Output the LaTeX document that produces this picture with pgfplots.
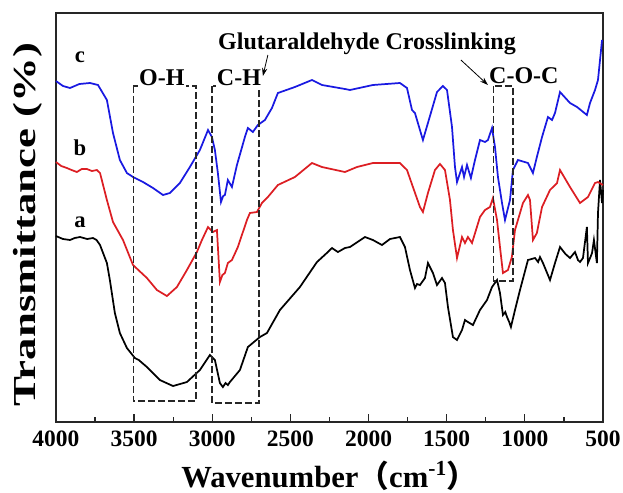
\documentclass[border=0pt]{standalone}
\usepackage{fontspec}
\setmainfont{Liberation Serif}
\newfontfamily\cjk{Noto Sans CJK SC}
\usepackage{graphicx}
\usepackage{pgfplots}
\pgfplotsset{compat=1.18}
\usetikzlibrary{arrows.meta}
\definecolor{cblue}{RGB}{25,25,225}
\definecolor{cred}{RGB}{220,30,35}
\begin{document}
\begin{tikzpicture}
\begin{axis}[
  scale only axis, width=410.25pt, height=306.75pt,
  x dir=reverse, xmin=500, xmax=4000, ymin=0, ymax=409,
  axis line style={line width=1.1pt, draw=black!85},
  xtick={500,1000,...,4000}, minor x tick num=1, xtick pos=bottom, ytick=\empty,
  major tick length=6pt, minor tick length=3.75pt,
  tick style={line width=0.9pt, draw=black!85},
  /pgf/number format/assume math mode=true,
  /pgf/number format/1000 sep={},
  xticklabel style={font=\fontsize{17.6}{20}\selectfont\bfseries, yshift=-3pt},
  xlabel={Wavenumber{\cjk （}cm\textsuperscript{-1}{\cjk ）}},
  xlabel style={font=\fontsize{23}{28}\selectfont\bfseries, at={(axis description cs:0.5,-0.159)}, anchor=base},
  ylabel={\scalebox{1.4}[1]{Transmittance (\%)}},
  ylabel style={font=\fontsize{24}{28}\selectfont\bfseries, at={(axis description cs:-0.037,0.482)}, anchor=base, rotate=0},
  clip=false,
]
% curve a (black)
\addplot[black, line width=1.3pt] coordinates {
(4000,186) (3955,183) (3910,182) (3880,184) (3846,185) (3800,183) (3763,184) (3740,182) (3718,177) (3674,159) (3655,142) (3623,109) (3591,89) (3546,74) (3495,64) (3470,62) (3418,55) (3335,42) (3251,36) (3162,40) (3079,52) (3015,67) (2983,62) (2951,39) (2932,35) (2915,39) (2900,37) (2887,40) (2823,52) (2772,75) (2695,85) (2650,89) (2567,112) (2439,135) (2330,160) (2260,170) (2234,174) (2196,170) (2151,174) (2119,175) (2023,185) (1972,182) (1914,177) (1863,183) (1799,185) (1767,175) (1735,152) (1703,134) (1690,138) (1671,137) (1639,144) (1620,159) (1588,149) (1562,137) (1530,144) (1511,139) (1492,115) (1460,85) (1434,82) (1402,92) (1383,102) (1364,100) (1332,97) (1287,112) (1242,122) (1210,135) (1178,142) (1159,129) (1140,107) (1125,110) (1114,105) (1100,100) (1089,95) (1063,112) (1031,132) (980,162) (935,164) (915,160) (903,165) (884,159) (839,142) (807,159) (775,175) (740,168) (711,164) (679,170) (660,162) (647,160) (628,164) (603,195) (596,159) (580,165) (570,169) (558,182) (539,159) (532,209) (519,242) (506,219) (500,232)
};
% curve b (red)
\addplot[cred, line width=1.3pt] coordinates {
(4000,260) (3966,256) (3930,254) (3900,252) (3866,250) (3835,253) (3802,253) (3770,251) (3738,252) (3718,249) (3674,222) (3635,200) (3571,182) (3507,157) (3418,144) (3354,132) (3290,126) (3226,135) (3162,152) (3098,170) (3066,182) (3027,195) (2996,190) (2970,192) (2951,140) (2935,147) (2919,149) (2900,159) (2874,162) (2836,175) (2778,202) (2759,209) (2714,210) (2682,219) (2644,225) (2580,237) (2471,245) (2362,259) (2298,255) (2151,250) (2074,255) (1972,259) (1799,259) (1754,252) (1716,235) (1671,215) (1652,210) (1620,229) (1575,252) (1543,258) (1511,252) (1479,222) (1460,192) (1434,164) (1402,185) (1383,179) (1364,185) (1338,179) (1287,205) (1255,212) (1223,215) (1204,224) (1178,202) (1159,175) (1140,149) (1108,152) (1083,165) (1063,192) (1012,219) (980,227) (967,222) (948,182) (923,189) (890,215) (839,232) (794,239) (775,252) (711,235) (647,219) (596,225) (551,239) (532,240) (500,237)
};
% curve c (blue)
\addplot[cblue, line width=1.3pt] coordinates {
(4000,341) (3955,336) (3910,334) (3850,338) (3782,339) (3731,337) (3674,322) (3635,289) (3591,262) (3546,249) (3507,245) (3443,240) (3379,234) (3315,227) (3271,229) (3207,239) (3143,255) (3079,272) (3027,292) (3002,285) (2983,272) (2964,249) (2944,220) (2930,226) (2919,227) (2900,242) (2874,235) (2842,257) (2791,285) (2772,294) (2740,290) (2708,297) (2663,302) (2618,314) (2580,329) (2471,335) (2362,342) (2298,337) (2151,333) (2119,332) (1972,337) (1799,339) (1754,334) (1722,312) (1703,309) (1671,292) (1652,282) (1620,299) (1562,330) (1524,336) (1498,332) (1466,295) (1447,255) (1434,240) (1402,255) (1389,245) (1370,257) (1345,244) (1319,262) (1287,282) (1255,280) (1236,282) (1210,294) (1191,275) (1172,245) (1146,219) (1127,202) (1095,222) (1076,252) (1044,262) (980,259) (948,249) (923,265) (890,285) (852,305) (826,302) (807,309) (775,330) (711,319) (666,315) (603,307) (583,319) (551,332) (532,342) (506,382)
};
% dashed boxes
\draw[black!85, line width=0.9pt, dash pattern=on 5pt off 2.5pt] (axis cs:3505,336) rectangle (axis cs:3104,21);
\draw[black!85, line width=0.9pt, dash pattern=on 5pt off 2.5pt] (axis cs:3002,336) rectangle (axis cs:2701,19);
\draw[black!85, line width=0.9pt, dash pattern=on 5pt off 2.5pt] (axis cs:1198,336) rectangle (axis cs:1076,141);
% labels
\node[anchor=base, font=\fontsize{17}{20}\selectfont\bfseries] at (axis cs:3846,359) {c};
\node[anchor=base, font=\fontsize{17}{20}\selectfont\bfseries] at (axis cs:3846,267) {b};
\node[anchor=base, font=\fontsize{17}{20}\selectfont\bfseries] at (axis cs:3846,195) {a};
\node[anchor=base, font=\fontsize{18}{20}\selectfont\bfseries, fill=white, inner sep=1pt] at (axis cs:3322,337) {O-H};
\node[anchor=base, font=\fontsize{18}{20}\selectfont\bfseries, fill=white, inner sep=1pt] at (axis cs:2829,337) {C-H};
\node[anchor=base, font=\fontsize{18}{20}\selectfont\bfseries] at (axis cs:2010,372) {Glutaraldehyde Crosslinking};
\node[anchor=base, font=\fontsize{18}{20}\selectfont\bfseries] at (axis cs:1006,339) {C-O-C};
\draw[-{Stealth[length=6pt,width=4pt]}, line width=0.6pt] (axis cs:2644,367) -- (axis cs:2676,346);
\draw[-{Stealth[length=6pt,width=4pt]}, line width=0.6pt] (axis cs:1409,362) -- (axis cs:1236,337);
\coordinate (bbll) at (axis cs:4358,-70);
\coordinate (bbur) at (axis cs:372,422);
\end{axis}
\pgfresetboundingbox
\path (bbll) rectangle (bbur);
\end{tikzpicture}
\end{document}
